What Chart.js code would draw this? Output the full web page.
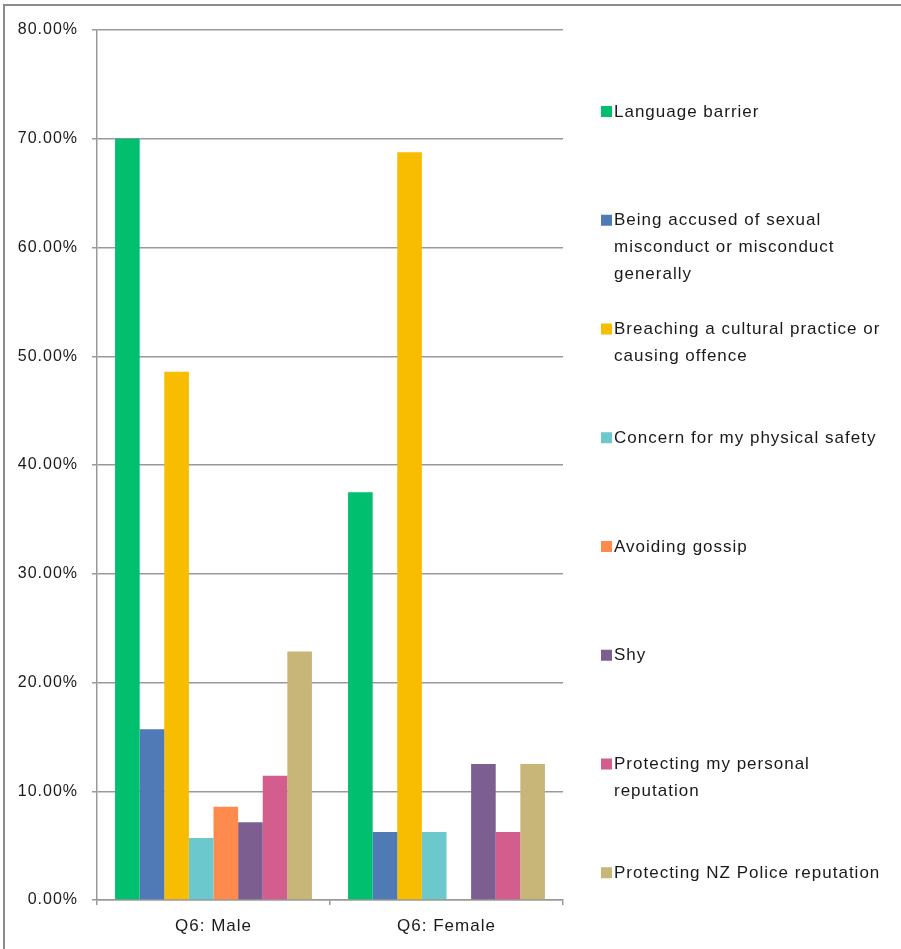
<!DOCTYPE html>
<html>
<head>
<meta charset="utf-8">
<title>Q6 by gender</title>
<script src="https://cdn.jsdelivr.net/npm/chart.js@4/dist/chart.umd.min.js"></script>
<style>
	html, body { margin: 0; padding: 0; background: #fff; }
	#wrap { width: 901px; height: 949px; }
</style>
</head>
<body>
<div id="wrap"><canvas id="q6Chart" width="901" height="949"></canvas></div>
<script>
// categories along the x axis
const groups = ['Q6: Male', 'Q6: Female'];

// series names, '\n' marks where the legend text wraps
const seriesNames = [
	'Language barrier',
	'Being accused of sexual\nmisconduct or misconduct\ngenerally',
	'Breaching a cultural practice or\ncausing offence',
	'Concern for my physical safety',
	'Avoiding gossip',
	'Shy',
	'Protecting my personal\nreputation',
	'Protecting NZ Police reputation'
];

const seriesColors = ['#00bf6f', '#4f7ab5', '#f8bd00', '#6bc8cc', '#ff8a4e', '#7d5e90', '#d35e8e', '#c8b679'];

// percentages: [male, female]
const languageBarrier = [70.00, 37.50];
const accusedMisconduct = [15.71, 6.25];
const culturalPractice = [48.57, 68.75];
const physicalSafety = [5.71, 6.25];
const avoidingGossip = [8.57, 0.00];
const shy = [7.14, 12.50];
const personalReputation = [11.43, 6.25];
const policeReputation = [22.86, 12.50];

const seriesValues = [languageBarrier, accusedMisconduct, culturalPractice, physicalSafety,
	avoidingGossip, shy, personalReputation, policeReputation];

const yTicks = [0, 10, 20, 30, 40, 50, 60, 70, 80];

const FONT = '"Liberation Sans", Arial, sans-serif';

// frame around the whole chart
const framePlugin = {
	id: 'frame',
	beforeDraw(chart) {
		const ctx = chart.ctx;
		ctx.save();
		ctx.fillStyle = '#fff';
		ctx.fillRect(0, 0, chart.width, chart.height);
		ctx.strokeStyle = '#8c8c8c';
		ctx.lineWidth = 2;
		ctx.strokeRect(4, 5, chart.width + 20, chart.height + 20);
		ctx.restore();
		ctx.letterSpacing = '1px';
	}
};

// legend drawn to the right, one slot per gridline step
const sideLegend = {
	id: 'sideLegend',
	afterDraw(chart) {
		const ctx = chart.ctx;
		const area = chart.chartArea;
		const step = (area.bottom - area.top) / 8;
		ctx.save();
		ctx.font = '17px ' + FONT;
		ctx.letterSpacing = '1px';
		ctx.textBaseline = 'middle';
		ctx.textAlign = 'left';
		chart.data.datasets.forEach((ds, i) => {
			const y = 112 + i * step;
			ctx.fillStyle = ds.backgroundColor;
			ctx.fillRect(601, y - 6, 11, 11);
			ctx.fillStyle = '#1a1a1a';
			ds.label.split('\n').forEach((line, j) => {
				ctx.fillText(line, 614, y + j * 27);
			});
		});
		ctx.restore();
	}
};

const ctx = document.getElementById('q6Chart').getContext('2d');
ctx.letterSpacing = '1px';

new Chart(ctx, {
	type: 'bar',
	data: {
		labels: groups,
		datasets: seriesNames.map((name, i) => ({
			label: name,
			data: seriesValues[i],
			backgroundColor: seriesColors[i],
			borderWidth: 0,
			categoryPercentage: 0.845,
			barPercentage: 1
		}))
	},
	options: {
		responsive: false,
		animation: false,
		layout: { padding: { left: 0, top: 30, right: 338, bottom: 0 } },
		plugins: {
			legend: { display: false },
			tooltip: { enabled: false }
		},
		scales: {
			x: {
				grid: {
					offset: true,
					drawOnChartArea: false,
					tickLength: 5,
					color: '#999',
					lineWidth: 1.5
				},
				border: { color: '#999', width: 1.5 },
				ticks: {
					color: '#1a1a1a',
					font: { family: FONT, size: 17 },
					padding: 11
				},
				afterFit(s) { s.height = 49; }
			},
			y: {
				min: 0,
				max: 80,
				afterBuildTicks(s) { s.ticks = yTicks.map(v => ({ value: v })); },
				grid: {
					color: '#999',
					lineWidth: 1.5,
					tickLength: 5
				},
				border: { color: '#999', width: 1.5 },
				ticks: {
					color: '#1a1a1a',
					font: { family: FONT, size: 16 },
					padding: 14,
					callback: v => v.toFixed(2) + '%'
				},
				afterFit(s) { s.width = 97; }
			}
		}
	},
	plugins: [framePlugin, sideLegend]
});
</script>
</body>
</html>
